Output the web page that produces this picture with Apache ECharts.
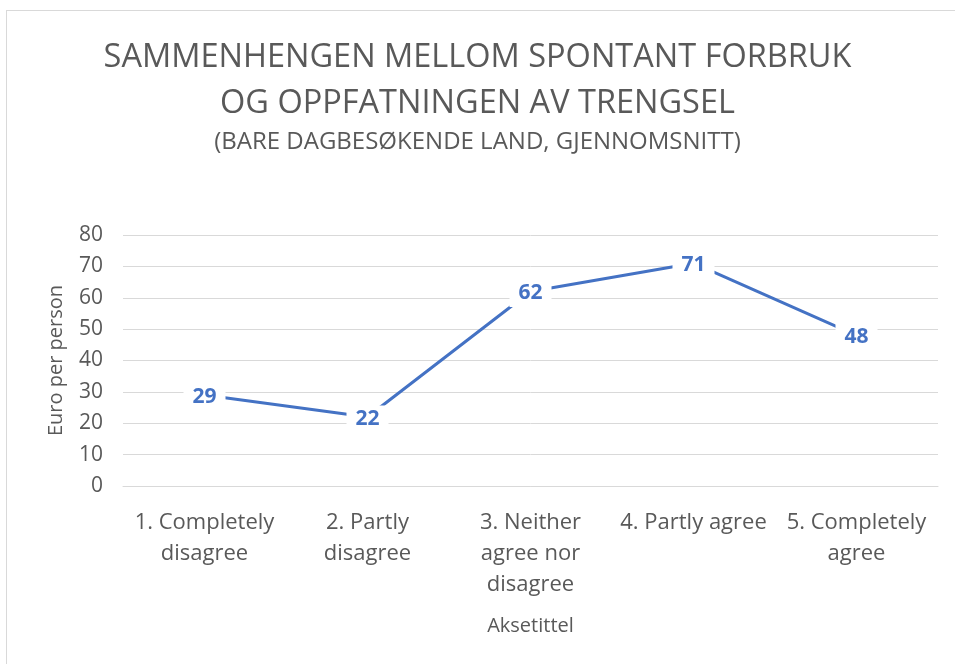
<!DOCTYPE html>
<html>
<head>
<meta charset="utf-8">
<script src="https://cdn.jsdelivr.net/npm/echarts@6/dist/echarts.min.js"></script>
<style>
  html, body { margin: 0; padding: 0; background: #fff; }
  #frame { position: absolute; left: 6px; top: 10px; width: 960px; height: 670px; border: 1px solid #d9d9d9; }
  #chart { position: absolute; left: 0; top: 0; width: 955px; height: 664px; }
</style>
</head>
<body>
<div id="frame"></div>
<div id="chart"></div>
<script>
// kategorier og verdier
var categories = ['1. Completely\ndisagree', '2. Partly\ndisagree', '3. Neither\nagree nor\ndisagree', '4. Partly agree', '5. Completely\nagree'];
var values = [29, 22, 62, 71, 48];
var yTicks = { min: 0, max: 80, interval: 10 };

var chart = echarts.init(document.getElementById('chart'));
var fontFam = 'Open Sans, Noto Sans, sans-serif';

var option = {
    title: [
        {
            text: 'SAMMENHENGEN MELLOM SPONTANT FORBRUK\nOG OPPFATNINGEN AV TRENGSEL',
            left: 'center',
            top: 30,
            textStyle: { color: '#595959', fontSize: 32.5, fontWeight: 'normal', fontFamily: fontFam, lineHeight: 46 }
        },
        {
            text: '(BARE DAGBESØKENDE LAND, GJENNOMSNITT)',
            left: 'center',
            top: 125,
            textStyle: { color: '#595959', fontSize: 24, fontWeight: 'normal', fontFamily: fontFam }
        }
    ],
    grid: { left: 123, right: 17, top: 235, bottom: 178 },
    xAxis: {
        type: 'category',
        data: categories,
        boundaryGap: true,
        axisLine: { show: true, lineStyle: { color: '#d9d9d9', width: 1 } },
        axisTick: { show: false },
        axisLabel: { color: '#595959', fontSize: 22, fontFamily: fontFam, lineHeight: 31, margin: 21, interval: 0 },
        name: 'Aksetittel',
        nameLocation: 'middle',
        nameGap: 130,
        nameTextStyle: { color: '#595959', fontSize: 20, fontFamily: fontFam }
    },
    yAxis: {
        type: 'value',
        min: yTicks.min,
        max: yTicks.max,
        interval: yTicks.interval,
        axisLine: { show: false },
        axisTick: { show: false },
        splitLine: { lineStyle: { color: '#d9d9d9', width: 1 } },
        axisLabel: { color: '#595959', fontSize: 21, fontFamily: fontFam, margin: 20 },
        name: 'Euro per person',
        nameLocation: 'middle',
        nameGap: 57,
        nameTextStyle: { color: '#595959', fontSize: 20, fontFamily: fontFam }
    },
    series: [
        {
            type: 'line',
            data: values,
            symbol: 'circle',
            symbolSize: 0,
            lineStyle: { color: '#4472C4', width: 3 },
            itemStyle: { color: '#4472C4' },
            label: {
                show: true,
                position: 'inside',
                offset: [0, 2],
                color: '#4472C4',
                fontSize: 21,
                fontWeight: 'bold',
                fontFamily: fontFam,
                backgroundColor: '#fff',
                padding: [3, 9]
            },
            animation: false
        }
    ]
};
chart.setOption(option);
</script>
</body>
</html>
